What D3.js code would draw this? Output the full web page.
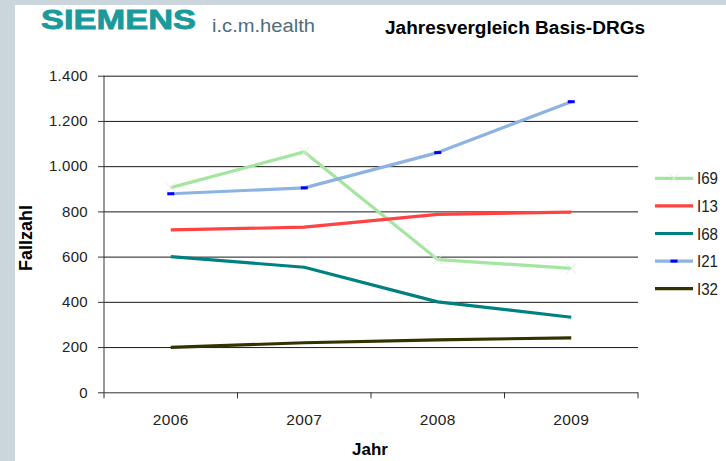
<!DOCTYPE html>
<html><head><meta charset="utf-8">
<script src="https://cdn.jsdelivr.net/npm/d3@7"></script>
<style>
html,body{margin:0;padding:0;background:#cad6dc;}
svg{display:block;}
text{font-family:"Liberation Sans",Arial,sans-serif;}
</style></head>
<body>
<svg id="c" width="726" height="461"></svg>
<script>
const years = ["2006","2007","2008","2009"];
const seriesNames = ["I69","I13","I68","I21","I32"];
const I69 = [905, 1063, 587, 548];
const I13 = [718, 730, 787, 797];
const I68 = [600, 553, 400, 332];
const I21 = [878, 904, 1060, 1285];
const I32 = [199, 219, 232, 241];
const yTicks = [0,200,400,600,800,1000,1200,1400];
const colors = ["#a4e6a0","#ff4242","#008080","#8db3e2","#333300"];

(function(){
const series = [I69,I13,I68,I21,I32].map((v,i)=>({name:seriesNames[i], values:v, color:colors[i]}));

const svg = d3.select("#c");
svg.append("rect").attr("x",15).attr("y",5).attr("width",711).attr("height",456).attr("fill","#fff");

// header
svg.append("text").attr("x",41).attr("y",28.5).attr("font-size",27).attr("font-weight","bold")
  .attr("fill","#1a9a9a").attr("stroke","#1a9a9a").attr("stroke-width",0.8)
  .attr("textLength",155).attr("lengthAdjust","spacingAndGlyphs").text("SIEMENS");
svg.append("text").attr("x",212).attr("y",32).attr("font-size",18)
  .attr("fill","#4f6d7a").attr("textLength",103).attr("lengthAdjust","spacingAndGlyphs").text("i.c.m.health");
svg.append("text").attr("x",385).attr("y",34).attr("font-size",18).attr("font-weight","bold")
  .attr("fill","#000").attr("textLength",260).attr("lengthAdjust","spacingAndGlyphs").text("Jahresvergleich Basis-DRGs");

const pL=104, pR=638, pT=75.7, pB=392.3;
const x = d3.scaleBand().domain(years).range([pL,pR]).paddingInner(0).paddingOuter(0);
const y = d3.scaleLinear().domain([0,1400]).range([pB,pT]);
const de = d3.formatLocale({decimal:",",thousands:".",grouping:[3],currency:["","€"]});
const fmt = de.format(",d");

// gridlines
const grid = svg.append("g").attr("transform",`translate(${pL},0)`)
  .call(d3.axisLeft(y).tickValues(yTicks.filter(v=>v>0)).tickSize(-(pR-pL)).tickFormat(""));
grid.select(".domain").remove();
grid.selectAll("line").attr("stroke","#1a1a1a").attr("stroke-width",1);

// y axis
const ya = svg.append("g").attr("transform",`translate(${pL},0)`)
  .call(d3.axisLeft(y).tickValues(yTicks).tickSize(6).tickPadding(10).tickFormat(fmt));
ya.select(".domain").attr("stroke","#333").attr("d",`M-0,${pB}V${pT}`);
ya.selectAll("line").attr("stroke","#333");
ya.selectAll("text").attr("font-size",15).attr("fill","#222").attr("font-family","Liberation Sans, Arial").attr("letter-spacing",0.3);

// x axis
const xa = svg.append("g").attr("transform",`translate(0,${pB})`)
  .call(d3.axisBottom(x).tickSize(0).tickPadding(22));
xa.select(".domain").attr("stroke","#333").attr("d",`M${pL},0.5H${pR}`);
xa.selectAll("text").attr("font-size",15.5).attr("fill","#222").attr("font-family","Liberation Sans, Arial").attr("letter-spacing",0.4);
const bounds = years.map(d=>x(d)).concat([x(years[years.length-1])+x.bandwidth()]);
xa.selectAll("line.bt").data(bounds).enter().append("line").attr("class","bt")
  .attr("x1",d=>d).attr("x2",d=>d).attr("y1",0).attr("y2",6).attr("stroke","#333");

// axis titles
svg.append("text").attr("transform",`translate(32,${(pT+pB)/2+4}) rotate(-90)`).attr("text-anchor","middle")
  .attr("font-size",18).attr("font-weight","bold").attr("fill","#000").text("Fallzahl");
svg.append("text").attr("x",370).attr("y",455).attr("text-anchor","middle")
  .attr("font-size",17).attr("font-weight","bold").attr("fill","#000").text("Jahr");

// lines
const cx = d=>x(d)+x.bandwidth()/2;
const line = d3.line().x((v,i)=>cx(years[i])).y(v=>y(v));
const lg = svg.append("g");
series.forEach(s=>{
  lg.append("path").datum(s.values).attr("d",line).attr("fill","none")
    .attr("stroke",s.color).attr("stroke-width",3.2).attr("stroke-linejoin","round");
});
// markers
const s69 = series[0], s21 = series[3];
lg.selectAll("path.xm").data(s69.values).enter().append("path").attr("class","xm")
  .attr("d",(v,i)=>{const px=cx(years[i]),py=y(v);return `M${px-5},${py-5}L${px+5},${py+5}M${px-5},${py+5}L${px+5},${py-5}`;})
  .attr("stroke","#dcefdc").attr("stroke-width",1).attr("fill","none");
lg.selectAll("rect.dm").data(s21.values).enter().append("rect").attr("class","dm")
  .attr("x",(v,i)=>cx(years[i])-3.5).attr("y",v=>y(v)-1.5).attr("width",7).attr("height",3).attr("fill","#0000ff");

// legend
const leg = svg.append("g");
const legY = d3.scalePoint().domain(seriesNames).range([178.3,288.7]);
series.forEach((s,i)=>{
  const yy = legY(s.name);
  leg.append("line").attr("x1",655).attr("x2",693).attr("y1",yy).attr("y2",yy)
    .attr("stroke",s.color).attr("stroke-width",3.2);
  if(i===0){
    leg.append("path").attr("d",`M${674-5},${yy-5}L${674+5},${yy+5}M${674-5},${yy+5}L${674+5},${yy-5}`)
      .attr("stroke","#dcefdc").attr("stroke-width",1);
  }
  if(i===3){
    leg.append("rect").attr("x",674-3.5).attr("y",yy-1.5).attr("width",7).attr("height",3).attr("fill","#0000ff");
  }
  leg.append("text").attr("x",697).attr("y",yy+6).attr("font-size",16).attr("fill","#222")
    .attr("textLength",21).attr("lengthAdjust","spacingAndGlyphs").text(s.name);
});
})();
</script>
</body></html>
